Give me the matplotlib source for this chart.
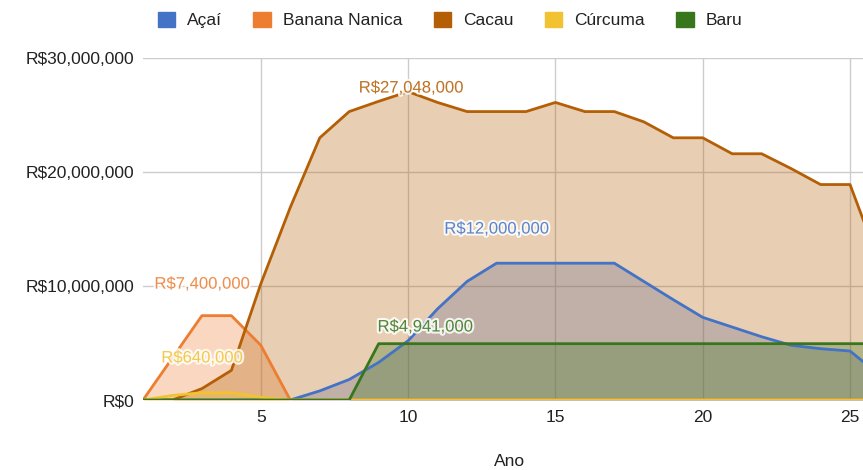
import matplotlib.pyplot as plt
import matplotlib.patheffects as pe
from matplotlib.patches import Patch
from matplotlib.ticker import FuncFormatter

plt.rcParams['font.family'] = ['Liberation Sans', 'DejaVu Sans']

anos = list(range(1, 27))

acai = [0, 0, 0, 0, 0, 0, 0.8, 1.8, 3.3, 5.2, 8.0, 10.4, 12.0, 12.0, 12.0, 12.0, 12.0,
        10.4, 8.8, 7.25, 6.4, 5.55, 4.8, 4.5, 4.3, 2.2]
banana = [0, 3.7, 7.4, 7.4, 4.8, 0] + [0] * 20
cacau = [0, 0, 1.0, 2.6, 10.2, 16.9, 23.0, 25.3, 26.2, 27.048, 26.1, 25.3, 25.3, 25.3,
         26.1, 25.3, 25.3, 24.4, 23.0, 23.0, 21.6, 21.6, 20.3, 18.9, 18.9, 12.0]
curcuma = [0, 0.4, 0.64, 0.64, 0.25, 0] + [0] * 20
baru = [0, 0, 0, 0, 0, 0, 0, 0, 4.941] + [4.941] * 17

nomes = ['Açaí', 'Banana Nanica', 'Cacau', 'Cúrcuma', 'Baru']
cores = ['#4472c4', '#ed7d31', '#b45f06', '#f1c232', '#38761d']
series = [acai, banana, cacau, curcuma, baru]

# (ano, valor, texto, deslocamento em pontos)
rotulos = [
    (13, 12.0, 'R$12,000,000', (0, 24.6)),
    (3, 7.4, 'R$7,400,000', (0, 22.7)),
    (10, 27.048, 'R$27,048,000', (2, 2.6)),
    (3, 0.64, 'R$640,000', (0, 25)),
    (10, 4.941, 'R$4,941,000', (12.2, 12)),
]

fig = plt.figure(figsize=(8.63, 4.7), dpi=100)
ax = fig.add_axes([0.1657, 0.1489, 0.8343, 0.7277])

for vals, cor in zip(series, cores):
    y = [v * 1e6 for v in vals]
    ax.fill_between(anos, y, 0, color=cor, alpha=0.3, linewidth=0)
for vals, cor in zip(series, cores):
    y = [v * 1e6 for v in vals]
    ax.plot(anos, y, color=cor, linewidth=2)

for (ano, val, txt, off), cor in zip(rotulos, cores):
    ax.annotate(txt, (ano, val * 1e6), xytext=off, textcoords='offset points',
                ha='center', va='center', color=cor, fontsize=12, alpha=0.85,
                path_effects=[pe.withStroke(linewidth=3, foreground='white')])

ax.set_xlim(1, 25.44)
ax.set_ylim(0, 30e6)
ax.set_xticks([5, 10, 15, 20, 25])
ax.set_yticks([0, 10e6, 20e6, 30e6])
ax.yaxis.set_major_formatter(FuncFormatter(lambda v, p: 'R${:,.0f}'.format(v)))
ax.tick_params(length=0, labelsize=12.5, colors='#222222')
ax.tick_params(axis='y', pad=6)
ax.tick_params(axis='x', pad=7)
ax.grid(True, color='#cccccc', linewidth=1)
ax.set_axisbelow(True)
for s in ax.spines.values():
    s.set_visible(False)

fig.text(510 / 863, 1 - 462 / 470, 'Ano', ha='center', va='center',
         fontsize=12.5, color='#222222')

handles = [Patch(facecolor=c, edgecolor=c) for c in cores]
fig.legend(handles, nomes, loc='center', bbox_to_anchor=(450 / 863, 1 - 20 / 470),
           ncol=5, frameon=False, fontsize=12.5, handlelength=1.0, handleheight=1.0,
           columnspacing=1.8, handletextpad=0.7, labelcolor='#222222')

fig.savefig('out.png', dpi=100)
